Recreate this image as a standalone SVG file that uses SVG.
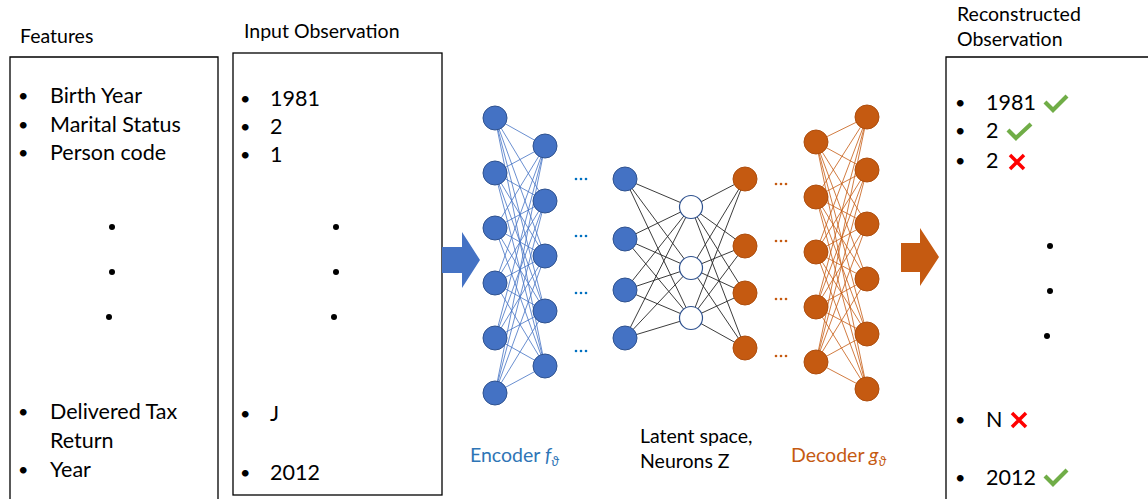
<svg xmlns="http://www.w3.org/2000/svg" width="1148" height="499" viewBox="0 0 1148 499">
<style>
text{font-family:Lato,"Liberation Sans",sans-serif;fill:#000}
.t{font-size:19.5px}
.b{font-size:21.5px}
.u{font-size:18px}
.box{fill:#fff;stroke:#000;stroke-width:1.3}
.nb{fill:#4472C4;stroke:#2F528F;stroke-width:1}
.no{fill:#C55A11;stroke:#AE4E0E;stroke-width:1}
.nw{fill:#fff;stroke:#2F528F;stroke-width:1.2}
.dot{fill:#000}
.ok{fill:none;stroke:#70AD47;stroke-width:4.2;stroke-linecap:butt;stroke-linejoin:miter}
.no-x{fill:none;stroke:#FF0000;stroke-width:3.5}
</style>
<rect width="1148" height="499" fill="#fff"/>

<g id="features">
<text class="t" x="20" y="43">Features</text>
<path class="box" d="M10 510V57H218V510"/>
<text class="u" x="18" y="102">•</text><text class="b" x="50" y="103">Birth Year</text>
<text class="u" x="18" y="131">•</text><text class="b" x="50" y="132">Marital Status</text>
<text class="u" x="18" y="159">•</text><text class="b" x="50" y="160">Person code</text>
<text class="u" x="18" y="418">•</text><text class="b" x="50" y="419">Delivered Tax</text>
<text class="b" x="50" y="448">Return</text>
<text class="u" x="18" y="476">•</text><text class="b" x="50" y="477">Year</text>
<circle class="dot" cx="112" cy="227" r="3"/>
<circle class="dot" cx="112" cy="272" r="3"/>
<circle class="dot" cx="109" cy="317" r="3"/>
</g>

<g id="input">
<text class="t" x="244" y="38">Input Observation</text>
<rect class="box" x="233" y="53" width="209" height="442"/>
<text class="u" x="240" y="105">•</text><text class="b" x="270" y="106">1981</text>
<text class="u" x="240" y="133">•</text><text class="b" x="270" y="134">2</text>
<text class="u" x="240" y="161">•</text><text class="b" x="270" y="162">1</text>
<text class="u" x="240" y="420">•</text><text class="b" x="270" y="421">J</text>
<text class="u" x="240" y="479">•</text><text class="b" x="270" y="480">2012</text>
<circle class="dot" cx="336" cy="227" r="3"/>
<circle class="dot" cx="336" cy="272" r="3"/>
<circle class="dot" cx="334" cy="317" r="3"/>
</g>

<g id="output">
<text class="t" x="957" y="21">Reconstructed</text>
<text class="t" x="957" y="46">Observation</text>
<path class="box" d="M946 510V57H1160"/>
<text class="u" x="955" y="109">•</text><text class="b" x="986" y="110">1981</text>
<text class="u" x="955" y="137">•</text><text class="b" x="986" y="138">2</text>
<text class="u" x="955" y="167">•</text><text class="b" x="986" y="168">2</text>
<text class="u" x="955" y="426">•</text><text class="b" x="986" y="427">N</text>
<text class="u" x="955" y="484">•</text><text class="b" x="986" y="485">2012</text>
<circle class="dot" cx="1050" cy="246" r="3"/>
<circle class="dot" cx="1050" cy="291" r="3"/>
<circle class="dot" cx="1047" cy="336" r="3"/>
<path class="ok" d="M1045 102L1053 110L1067 96"/>
<path class="ok" d="M1008 130L1016 138L1031 124"/>
<path class="ok" d="M1045 476L1053 484L1067 470"/>
<path class="no-x" d="M1010 155L1024 169M1024 155L1010 169"/>
<path class="no-x" d="M1012 413L1026 427M1026 413L1012 427"/>
</g>

<g id="arrows">
<path id="arrow-in" fill="#4472C4" d="M442 247H462V232L480 260L462 288V273H442Z"/>
<path id="arrow-out" fill="#C55A11" d="M901 243H920V228L939 257L920 286V272H901Z"/>
</g>

<g id="connectors" fill="none">
<path stroke="#4472C4" stroke-width="0.8" d="M495 118L545 146M495 118L545 201M495 118L545 256M495 118L545 311M495 118L545 366M495 173L545 146M495 173L545 201M495 173L545 256M495 173L545 311M495 173L545 366M495 228L545 146M495 228L545 201M495 228L545 256M495 228L545 311M495 228L545 366M495 283L545 146M495 283L545 201M495 283L545 256M495 283L545 311M495 283L545 366M495 338L545 146M495 338L545 201M495 338L545 256M495 338L545 311M495 338L545 366M495 393L545 146M495 393L545 201M495 393L545 256M495 393L545 311M495 393L545 366"/>
<path stroke="#262626" stroke-width="0.9" d="M625 179L691 207M625 179L691 268M625 179L691 318M625 239L691 207M625 239L691 268M625 239L691 318M625 290L691 207M625 290L691 268M625 290L691 318M625 338L691 207M625 338L691 268M625 338L691 318M691 207L745 179M691 207L745 246M691 207L745 293M691 207L745 348M691 268L745 179M691 268L745 246M691 268L745 293M691 268L745 348M691 318L745 179M691 318L745 246M691 318L745 293M691 318L745 348"/>
<path stroke="#C55A11" stroke-width="0.8" d="M816 142L867 117M816 142L867 170M816 142L867 224M816 142L867 279M816 142L867 334M816 142L867 389M816 197L867 117M816 197L867 170M816 197L867 224M816 197L867 279M816 197L867 334M816 197L867 389M816 252L867 117M816 252L867 170M816 252L867 224M816 252L867 279M816 252L867 334M816 252L867 389M816 307L867 117M816 307L867 170M816 307L867 224M816 307L867 279M816 307L867 334M816 307L867 389M816 362L867 117M816 362L867 170M816 362L867 224M816 362L867 279M816 362L867 334M816 362L867 389"/>
</g>

<g id="encoder">
<circle class="nb" cx="495" cy="118" r="12"/>
<circle class="nb" cx="495" cy="173" r="12"/>
<circle class="nb" cx="495" cy="228" r="12"/>
<circle class="nb" cx="495" cy="283" r="12"/>
<circle class="nb" cx="495" cy="338" r="12"/>
<circle class="nb" cx="495" cy="393" r="12"/>
<circle class="nb" cx="545" cy="146" r="12"/>
<circle class="nb" cx="545" cy="201" r="12"/>
<circle class="nb" cx="545" cy="256" r="12"/>
<circle class="nb" cx="545" cy="311" r="12"/>
<circle class="nb" cx="545" cy="366" r="12"/>
<g fill="#0070C0">
<circle cx="576" cy="179" r="1.3"/><circle cx="581" cy="179" r="1.3"/><circle cx="586" cy="179" r="1.3"/>
<circle cx="576" cy="236" r="1.3"/><circle cx="581" cy="236" r="1.3"/><circle cx="586" cy="236" r="1.3"/>
<circle cx="576" cy="293" r="1.3"/><circle cx="581" cy="293" r="1.3"/><circle cx="586" cy="293" r="1.3"/>
<circle cx="576" cy="351" r="1.3"/><circle cx="581" cy="351" r="1.3"/><circle cx="586" cy="351" r="1.3"/>
</g>
<text class="t" x="470" y="462" style="fill:#2E75B6">Encoder <tspan font-style="italic" style="fill:#2E75B6">f</tspan><tspan font-style="italic" font-size="13" dy="4" style="fill:#2E75B6">ϑ</tspan></text>
</g>

<g id="latent">
<circle class="nb" cx="625" cy="179" r="12"/>
<circle class="nb" cx="625" cy="239" r="12"/>
<circle class="nb" cx="625" cy="290" r="12"/>
<circle class="nb" cx="625" cy="338" r="12"/>
<circle class="nw" cx="691" cy="207" r="11.5"/>
<circle class="nw" cx="691" cy="268" r="11.5"/>
<circle class="nw" cx="691" cy="318" r="11.5"/>
<circle class="no" cx="745" cy="179" r="12"/>
<circle class="no" cx="745" cy="246" r="12"/>
<circle class="no" cx="745" cy="293" r="12"/>
<circle class="no" cx="745" cy="348" r="12"/>
<text class="t" x="640" y="443">Latent space,</text>
<text class="t" x="640" y="468">Neurons Z</text>
</g>

<g id="decoder">
<g fill="#C55A11">
<circle cx="776" cy="184" r="1.3"/><circle cx="781" cy="184" r="1.3"/><circle cx="786" cy="184" r="1.3"/>
<circle cx="776" cy="241" r="1.3"/><circle cx="781" cy="241" r="1.3"/><circle cx="786" cy="241" r="1.3"/>
<circle cx="776" cy="299" r="1.3"/><circle cx="781" cy="299" r="1.3"/><circle cx="786" cy="299" r="1.3"/>
<circle cx="776" cy="356" r="1.3"/><circle cx="781" cy="356" r="1.3"/><circle cx="786" cy="356" r="1.3"/>
</g>
<circle class="no" cx="816" cy="142" r="12"/>
<circle class="no" cx="816" cy="197" r="12"/>
<circle class="no" cx="816" cy="252" r="12"/>
<circle class="no" cx="816" cy="307" r="12"/>
<circle class="no" cx="816" cy="362" r="12"/>
<circle class="no" cx="867" cy="117" r="12"/>
<circle class="no" cx="867" cy="170" r="12"/>
<circle class="no" cx="867" cy="224" r="12"/>
<circle class="no" cx="867" cy="279" r="12"/>
<circle class="no" cx="867" cy="334" r="12"/>
<circle class="no" cx="867" cy="389" r="12"/>
<text class="t" x="791" y="462" style="fill:#C55A11">Decoder <tspan font-style="italic" style="fill:#C55A11">g</tspan><tspan font-style="italic" font-size="13" dy="4" style="fill:#C55A11">ϑ</tspan></text>
</g>
</svg>
